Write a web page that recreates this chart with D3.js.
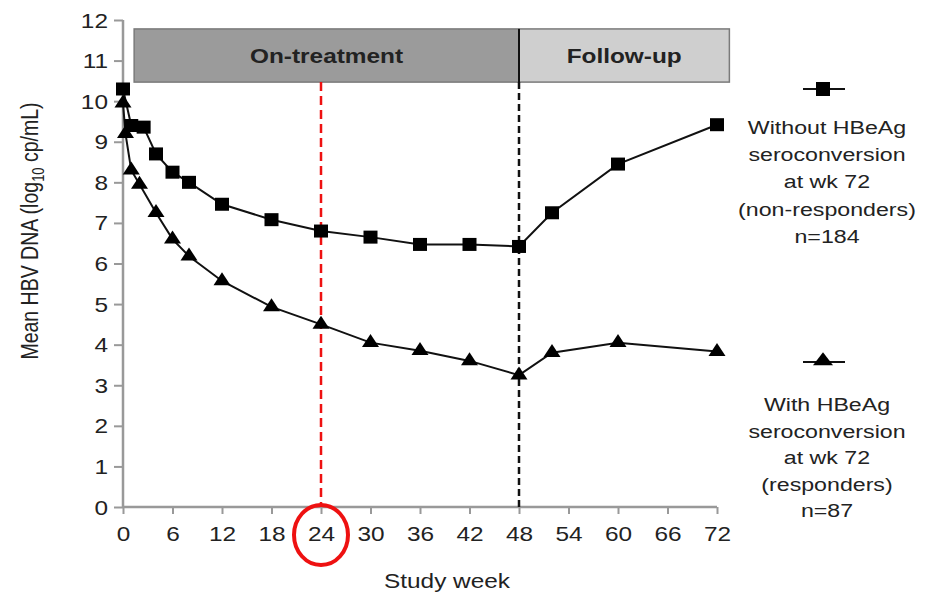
<!DOCTYPE html>
<html>
<head>
<meta charset="utf-8">
<script src="https://cdn.jsdelivr.net/npm/d3@7/dist/d3.min.js"></script>
<style>
  html, body { margin: 0; padding: 0; background: #fff; }
  svg { display: block; }
  text { font-family: "Liberation Sans", Arial, Helvetica, sans-serif; fill: #222; }
</style>
</head>
<body>
<svg id="chart" width="935" height="593"></svg>
<script>
// Mean HBV DNA by study week, split by HBeAg seroconversion status at week 72
const nonRespWeeks = [0, 1, 2.5, 4, 6, 8, 12, 18, 24, 30, 36, 42, 48, 52, 60, 72];
const nonRespDNA   = [10.3, 9.4, 9.36, 8.7, 8.25, 8.0, 7.46, 7.08, 6.8, 6.65, 6.47, 6.47, 6.42, 7.25, 8.45, 9.42];

const respWeeks = [0, 0.3, 1, 2, 4, 6, 8, 12, 18, 24, 30, 36, 42, 48, 52, 60, 72];
const respDNA   = [9.95, 9.2, 8.3, 7.95, 7.25, 6.6, 6.18, 5.57, 4.93, 4.5, 4.05, 3.85, 3.6, 3.25, 3.8, 4.05, 3.83];

const xTicks = [0, 6, 12, 18, 24, 30, 36, 42, 48, 54, 60, 66, 72];
const yTicks = [0, 1, 2, 3, 4, 5, 6, 7, 8, 9, 10, 11, 12];

const phases = [
  { label: "On-treatment", start: 1.35, end: 48, fill: "#9b9b9b" },
  { label: "Follow-up",    start: 48,   end: 73.5, fill: "#cfcfcf" }
];

const legendNonResp = ["Without HBeAg", "seroconversion", "at wk 72", "(non-responders)", "n=184"];
const legendResp    = ["With HBeAg", "seroconversion", "at wk 72", "(responders)", "n=87"];

const highlightWeek = 24;
const switchWeek = 48;

// horizontal stretch applied to text and markers
const SX = 1.22;

const svg = d3.select("#chart");

const x = d3.scaleLinear().domain([0, 72]).range([123, 717]);
const y = d3.scaleLinear().domain([0, 12]).range([507, 20]);

const axisColor = "#999";

// phase bars along the top
const phaseG = svg.append("g");
phases.forEach(p => {
  phaseG.append("rect")
    .attr("x", x(p.start)).attr("y", y(11.78))
    .attr("width", x(p.end) - x(p.start))
    .attr("height", y(10.47) - y(11.78))
    .attr("fill", p.fill)
    .attr("stroke", "#7a7a7a").attr("stroke-width", 1.5);
  phaseG.append("text")
    .attr("transform", `translate(${(x(p.start) + x(p.end)) / 2},${y(11.12) + 7}) scale(${SX},1)`)
    .attr("text-anchor", "middle")
    .attr("font-size", 20).attr("font-weight", "bold")
    .attr("fill", "#1a1a1a")
    .text(p.label);
});
// boundary between phases inside the bar
svg.append("line")
  .attr("x1", x(switchWeek)).attr("x2", x(switchWeek))
  .attr("y1", y(11.78)).attr("y2", y(10.47))
  .attr("stroke", "#111").attr("stroke-width", 2);

// axes
const yAxis = svg.append("g")
  .attr("transform", `translate(${x(0)},0)`)
  .call(d3.axisLeft(y).tickValues(yTicks).tickSize(9).tickPadding(0).tickFormat(d3.format("d")));
const xAxis = svg.append("g")
  .attr("transform", `translate(0,${y(0)})`)
  .call(d3.axisBottom(x).tickValues(xTicks).tickSize(7).tickPadding(0).tickFormat(d3.format("d")));

[yAxis, xAxis].forEach(a => {
  a.select(".domain").attr("stroke", axisColor).attr("stroke-width", 2.5);
  a.selectAll(".tick line").attr("stroke", axisColor).attr("stroke-width", 2);
  a.selectAll("text").attr("font-size", 20).attr("fill", "#222")
    .attr("font-family", "Liberation Sans, Arial, sans-serif");
});
yAxis.selectAll(".domain").attr("d", `M0,${y(12)}V${y(0)}`);
yAxis.selectAll(".tick text")
  .attr("x", -15 / SX).attr("dy", "0.35em")
  .attr("transform", `scale(${SX},1)`);
xAxis.selectAll(".domain").attr("d", `M${x(0)},0H${x(72)}`);
xAxis.selectAll(".tick text")
  .attr("y", 20).attr("dy", "0.71em")
  .attr("transform", `scale(${SX},1)`);

// axis titles
svg.append("text")
  .attr("transform", `translate(447,588) scale(${SX},1)`)
  .attr("text-anchor", "middle").attr("font-size", 20)
  .text("Study week");

const yTitle = svg.append("text")
  .attr("transform", `translate(38,231) scale(${SX},1) rotate(-90)`)
  .attr("text-anchor", "middle").attr("font-size", 19.5);
yTitle.append("tspan").text("Mean HBV DNA (log");
yTitle.append("tspan").attr("font-size", 13).attr("dy", 5).text("10");
yTitle.append("tspan").attr("dy", -5).text(" cp/mL)");

// vertical reference lines
svg.append("line")
  .attr("x1", x(switchWeek)).attr("x2", x(switchWeek))
  .attr("y1", y(10.47)).attr("y2", y(0))
  .attr("stroke", "#111").attr("stroke-width", 2.5)
  .attr("stroke-dasharray", "7,4");
svg.append("line")
  .attr("x1", x(highlightWeek)).attr("x2", x(highlightWeek))
  .attr("y1", y(10.47)).attr("y2", y(0))
  .attr("stroke", "#ee1111").attr("stroke-width", 2.5)
  .attr("stroke-dasharray", "9,5");

// series lines
const line = d3.line().x(d => x(d[0])).y(d => y(d[1]));
const nonResp = nonRespWeeks.map((w, i) => [w, nonRespDNA[i]]);
const resp = respWeeks.map((w, i) => [w, respDNA[i]]);

svg.append("path").datum(nonResp).attr("d", line)
  .attr("fill", "none").attr("stroke", "#111").attr("stroke-width", 2);
svg.append("path").datum(resp).attr("d", line)
  .attr("fill", "none").attr("stroke", "#111").attr("stroke-width", 2);

// markers
const sqW = 14, sqH = 13;
const triPath = (w, h) => `M0,${-h * 2 / 3}L${w / 2},${h / 3}L${-w / 2},${h / 3}Z`;

svg.append("g").selectAll("rect").data(nonResp).join("rect")
  .attr("x", d => x(d[0]) - sqW / 2).attr("y", d => y(d[1]) - sqH / 2)
  .attr("width", sqW).attr("height", sqH).attr("fill", "#000");

svg.append("g").selectAll("path").data(resp).join("path")
  .attr("d", triPath(17, 13))
  .attr("transform", d => `translate(${x(d[0])},${y(d[1])})`)
  .attr("fill", "#000");

// legends
function legendBlock(cx, markerY, lines, firstBaseline, step, marker) {
  const g = svg.append("g");
  g.append("line").attr("x1", cx - 20).attr("x2", cx + 22)
    .attr("y1", markerY).attr("y2", markerY)
    .attr("stroke", "#111").attr("stroke-width", 2);
  if (marker === "square") {
    g.append("rect").attr("x", cx - 7).attr("y", markerY - 7)
      .attr("width", 14).attr("height", 14).attr("fill", "#000");
  } else {
    g.append("path").attr("d", triPath(20, 13))
      .attr("transform", `translate(${cx},${markerY - 1})`).attr("fill", "#000");
  }
  lines.forEach((t, i) => {
    g.append("text")
      .attr("transform", `translate(${cx + 4},${firstBaseline + i * step}) scale(${SX},1)`)
      .attr("text-anchor", "middle").attr("font-size", 19)
      .text(t);
  });
}
legendBlock(823, 89, legendNonResp, 134, 27.2, "square");
legendBlock(823, 362, legendResp, 411, 26.5, "triangle");

// highlight ring around the week-24 tick label
svg.append("ellipse")
  .attr("cx", x(highlightWeek)).attr("cy", 535)
  .attr("rx", 27).attr("ry", 30)
  .attr("fill", "none").attr("stroke", "#ee1111").attr("stroke-width", 4);
</script>
</body>
</html>
